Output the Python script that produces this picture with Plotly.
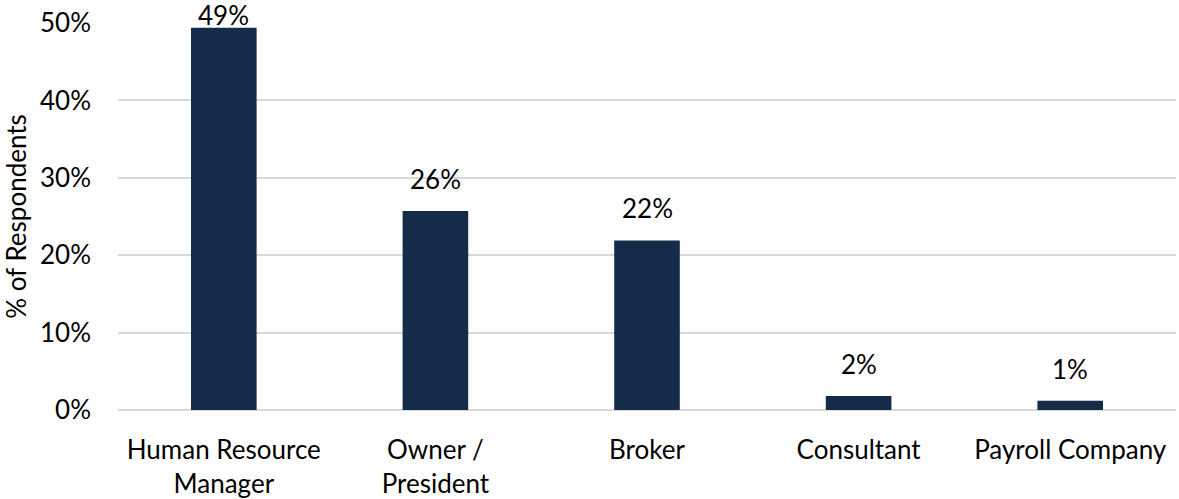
import plotly.graph_objects as go

categories = ["Human Resource<br>Manager", "Owner /<br>President", "Broker", "Consultant", "Payroll Company"]
values = [49.4, 25.7, 21.9, 1.8, 1.2]
labels = ["49%", "26%", "22%", "2%", "1%"]
tick_vals = [0, 10, 20, 30, 40, 50]
tick_text = ["0%", "10%", "20%", "30%", "40%", "50%"]

FONT = "Lato, 'Open Sans', sans-serif"
FS = 26

fig = go.Figure(go.Bar(
    x=categories, y=values,
    marker=dict(color="#142b4a", line=dict(width=0)),
    cliponaxis=False,
))

for c, v, t in zip(categories, values, labels):
    fig.add_annotation(
        x=c, y=v, text=t, showarrow=False,
        xanchor="center", yanchor="bottom",
        yshift=14 if v < 45 else -5,
        font=dict(size=FS, color="#000000", family=FONT),
    )

fig.update_layout(
    width=1179, height=499,
    margin=dict(l=118, r=3, t=23, b=89),
    paper_bgcolor="white", plot_bgcolor="white",
    bargap=0.69,
    showlegend=False,
    font=dict(family=FONT, size=FS, color="#000000"),
    xaxis=dict(showgrid=False, showline=False, ticks="", tickfont=dict(size=FS),
               ticklabelstandoff=22, automargin=False),
    yaxis=dict(
        range=[0, 50], tickvals=tick_vals, ticktext=tick_text,
        showgrid=True, gridcolor="#d9d9d9", gridwidth=1.5,
        zeroline=True, zerolinecolor="#d9d9d9", zerolinewidth=1.5,
        showline=False, ticks="", ticklen=0, automargin=False,
        tickfont=dict(size=FS), ticklabelstandoff=26,
        title=dict(text="% of Respondents", font=dict(size=FS), standoff=8),
    ),
)

fig.write_html("out.html")
